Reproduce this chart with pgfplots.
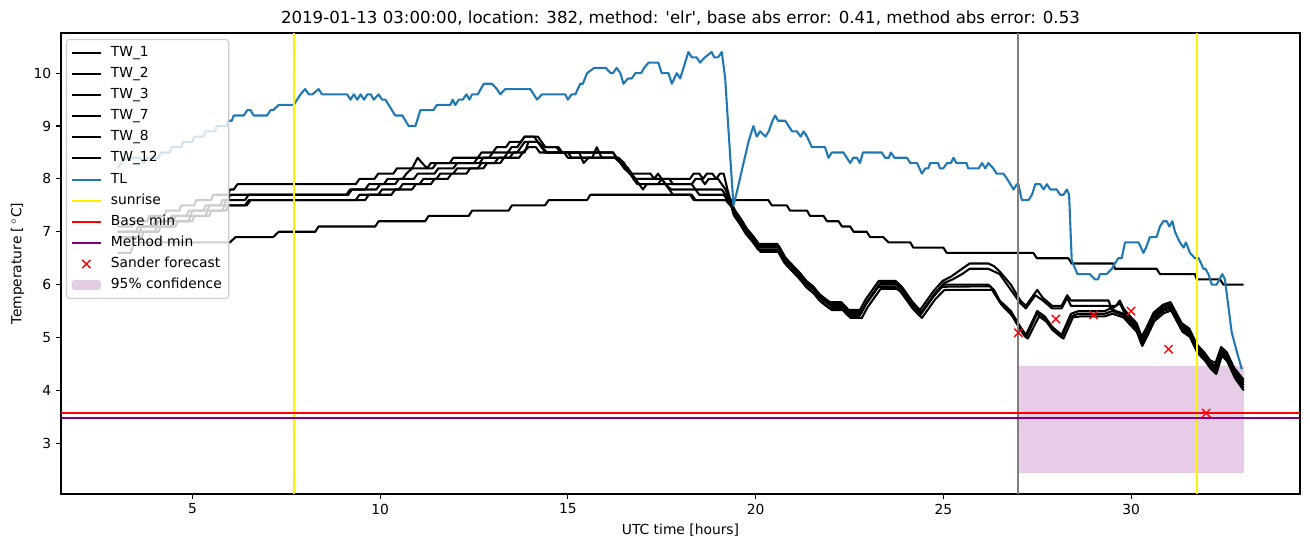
\documentclass[border=0pt]{standalone}
\usepackage{fontspec}
\setmainfont{DejaVu Sans}
\usepackage{pgfplots}
\pgfplotsset{compat=1.18}
\definecolor{mplblue}{HTML}{1F77B4}
\definecolor{mplpurple}{HTML}{800080}
\pgfplotsset{
  mylegline/.style={legend image code/.code={\draw[##1] (0bp,0bp) -- (21bp,0bp);}},
  mylegmark/.style={legend image code/.code={\draw[##1] plot coordinates {(10.5bp,0bp)};}},
  mylegarea/.style={legend image code/.code={\fill[##1] (0bp,-3.6bp) rectangle (21bp,3.6bp);}},
  tw/.style={black, line width=1.5bp, line join=round, mylegline},
}
\begin{document}
\begin{tikzpicture}
\begin{axis}[
  at={(0,0)}, anchor=south west,
  scale only axis, width=892.08bp, height=331.92bp,
  xmin=1.5, xmax=34.5, ymin=2.04, ymax=10.76,
  xtick={5,10,15,20,25,30}, ytick={3,4,5,6,7,8,9,10},
  tick pos=left, tick align=outside,
  major tick length=3.5bp,
  every tick/.style={black, line width=0.8bp},
  axis line style={line width=0.8bp},
  /pgf/number format/assume math mode=true,
  ticklabel style={font=\fontsize{10}{12}\selectfont},
  xlabel={UTC time [hours]}, ylabel={Temperature [\,$^\circ$C]},
  label style={font=\fontsize{10}{12}\selectfont},
  title={2019-01-13 03:00:00, location: 382, method: \textquotesingle elr\textquotesingle, base abs error: 0.41, method abs error: 0.53},
  title style={font=\fontsize{12}{14}\selectfont, yshift=-4.3bp},
  legend cell align=left,
  legend style={at={(0.004,0.987)}, anchor=north west, draw=black!20, line width=0.8bp, rounded corners=2bp,
    fill=white, fill opacity=0.8, text opacity=1, draw opacity=1,
    font=\fontsize{10}{12}\selectfont, row sep=0pt,
    /tikz/every odd column/.append style={column sep=4.5bp},
    nodes={text height=7.5bp, text depth=2.5bp, inner ysep=2.6bp}},
]
% 95% confidence band (drawn first, below everything)
\addplot[draw=none, fill=mplpurple, fill opacity=0.2, forget plot] coordinates {(27,2.444) (33,2.444) (33,4.462) (27,4.462)} -- cycle;

% TW_1
\addplot[tw] coordinates {(3.0,7.1)(3.4,7.1)(3.45,7.2)(3.8,7.2)(3.85,7.3)(4.25,7.3)(4.3,7.4)(4.65,7.4)(4.7,7.5)(5.05,7.5)(5.1,7.6)(5.5,7.6)(5.55,7.7)(5.95,7.7)(6.0,7.8)(6.1,7.8)(6.2,7.9)(9.35,7.9)(9.45,8.0)(9.85,8.0)(9.95,8.1)(10.35,8.1)(10.45,8.2)(11.4,8.2)(11.5,8.3)(11.85,8.3)(11.95,8.4)(12.6,8.4)(12.7,8.5)(13.0,8.5)(13.1,8.6)(13.35,8.6)(13.45,8.7)(13.75,8.7)(13.85,8.8)(14.2,8.8)(14.3,8.7)(14.4,8.6)(14.7,8.6)(14.8,8.5)(16.2,8.5)(16.3,8.4)(16.45,8.3)(16.6,8.2)(16.7,8.1)(17.2,8.1)(17.3,8.0)(18.25,8.0)(18.35,8.1)(18.5,8.1)(18.6,8.0)(18.7,8.1)(18.85,8.1)(18.95,8.0)(19.05,8.1)(19.15,8.1)(19.25,7.8)(19.35,7.55)(19.43,7.42)(19.58,7.27)(19.75,7.07)(19.93,6.92)(20.08,6.77)(20.58,6.77)(20.78,6.52)(20.98,6.37)(21.18,6.22)(21.35,6.07)(21.53,5.97)(21.7,5.82)(21.88,5.72)(21.98,5.67)(22.28,5.67)(22.48,5.52)(22.78,5.52)(22.93,5.72)(23.08,5.87)(23.28,6.07)(23.73,6.07)(23.88,5.97)(24.03,5.82)(24.18,5.67)(24.38,5.52)(24.53,5.67)(24.73,5.87)(24.98,6.07)(25.2,6.15)(25.4,6.25)(25.6,6.35)(25.7,6.4)(26.2,6.4)(26.35,6.35)(26.5,6.25)(26.8,6.0)(27.05,5.7)(27.2,5.6)(27.5,5.9)(27.65,5.75)(27.9,5.6)(28.15,5.6)(28.3,5.8)(28.4,5.7)(29.4,5.7)(29.45,5.6)(29.6,5.6)(29.7,5.7)(29.8,5.55)(29.95,5.42)(30.15,5.27)(30.28,5.02)(30.4,5.17)(30.6,5.47)(30.85,5.62)(31.05,5.67)(31.2,5.47)(31.35,5.27)(31.55,5.17)(31.75,4.87)(31.95,4.72)(32.1,4.57)(32.25,4.52)(32.4,4.82)(32.55,4.72)(32.75,4.42)(33.0,4.2)};
\addlegendentry{TW\_1}
% TW_2
\addplot[tw] coordinates {(3.0,7.0)(3.5,7.0)(3.55,7.1)(3.95,7.1)(4.0,7.2)(4.4,7.2)(4.45,7.3)(4.85,7.3)(4.9,7.4)(5.3,7.4)(5.35,7.5)(5.75,7.5)(5.8,7.6)(5.95,7.6)(6.0,7.7)(9.1,7.7)(9.2,7.8)(9.6,7.8)(9.7,7.9)(10.1,7.9)(10.2,8.0)(10.6,8.0)(10.7,8.1)(10.85,8.2)(11.0,8.4)(11.12,8.3)(11.25,8.2)(11.35,8.3)(12.5,8.3)(12.6,8.4)(12.9,8.4)(13.0,8.5)(13.4,8.5)(13.5,8.6)(13.65,8.6)(13.75,8.7)(13.85,8.8)(14.1,8.8)(14.2,8.7)(14.35,8.6)(14.75,8.6)(14.85,8.5)(16.2,8.5)(16.3,8.4)(16.5,8.2)(16.65,8.1)(16.75,8.0)(17.3,8.0)(17.4,8.1)(17.5,8.0)(17.7,8.0)(17.8,7.9)(18.3,7.9)(18.4,8.0)(18.55,8.0)(18.65,7.9)(18.75,8.0)(19.0,8.0)(19.1,7.9)(19.2,7.8)(19.35,7.55)(19.47,7.38)(19.62,7.23)(19.79,7.03)(19.97,6.88)(20.12,6.73)(20.62,6.73)(20.82,6.48)(21.02,6.33)(21.22,6.18)(21.39,6.03)(21.57,5.93)(21.74,5.78)(21.92,5.68)(22.02,5.63)(22.32,5.63)(22.52,5.48)(22.82,5.48)(22.97,5.68)(23.12,5.83)(23.32,6.03)(23.77,6.03)(23.92,5.93)(24.07,5.78)(24.22,5.63)(24.42,5.48)(24.57,5.63)(24.77,5.83)(25.02,6.03)(25.25,6.1)(25.5,6.2)(25.7,6.3)(26.2,6.3)(26.5,6.2)(26.8,5.9)(27.05,5.65)(27.2,5.55)(27.45,5.8)(27.65,5.7)(27.9,5.55)(28.15,5.55)(28.3,5.75)(28.4,5.6)(29.4,5.6)(29.5,5.55)(29.7,5.65)(29.8,5.5)(29.95,5.38)(30.15,5.23)(30.28,4.97)(30.4,5.13)(30.6,5.43)(30.85,5.58)(31.05,5.63)(31.2,5.43)(31.35,5.23)(31.55,5.13)(31.75,4.83)(31.95,4.68)(32.1,4.53)(32.25,4.46)(32.4,4.78)(32.55,4.68)(32.75,4.38)(33.0,4.15)};
\addlegendentry{TW\_2}
% TW_3
\addplot[tw] coordinates {(3.0,7.0)(3.6,7.0)(3.65,7.1)(4.05,7.1)(4.1,7.2)(4.5,7.2)(4.55,7.3)(4.95,7.3)(5.0,7.4)(5.4,7.4)(5.45,7.5)(5.85,7.5)(5.9,7.6)(6.4,7.6)(6.5,7.7)(9.15,7.7)(9.25,7.8)(9.9,7.8)(10.0,7.9)(10.4,7.9)(10.5,8.0)(10.9,8.0)(11.0,8.1)(11.45,8.1)(11.55,8.2)(11.95,8.2)(12.05,8.3)(12.65,8.3)(12.75,8.4)(13.3,8.4)(13.4,8.5)(13.65,8.5)(13.75,8.6)(13.85,8.7)(14.2,8.7)(14.3,8.6)(14.45,8.5)(14.9,8.5)(15.0,8.4)(15.65,8.4)(15.77,8.6)(15.9,8.4)(16.25,8.4)(16.4,8.3)(16.55,8.2)(16.7,8.1)(16.8,8.0)(17.5,8.0)(17.6,7.9)(18.3,7.9)(18.4,7.8)(19.1,7.8)(19.2,7.7)(19.35,7.52)(19.45,7.35)(19.6,7.2)(19.77,7.0)(19.95,6.85)(20.1,6.7)(20.6,6.7)(20.8,6.45)(21.0,6.3)(21.2,6.15)(21.37,6.0)(21.55,5.9)(21.72,5.75)(21.9,5.65)(22.0,5.6)(22.3,5.6)(22.5,5.45)(22.8,5.45)(22.95,5.65)(23.1,5.8)(23.3,6.0)(23.75,6.0)(23.9,5.9)(24.05,5.75)(24.2,5.6)(24.4,5.45)(24.55,5.6)(24.75,5.8)(25.0,6.0)(26.2,6.0)(26.35,5.9)(26.5,5.7)(26.8,5.5)(27.05,5.2)(27.2,5.05)(27.5,5.5)(27.7,5.4)(27.9,5.2)(28.15,5.05)(28.4,5.45)(28.6,5.5)(29.3,5.5)(29.45,5.55)(29.6,5.5)(29.8,5.45)(29.95,5.34)(30.15,5.19)(30.28,4.92)(30.4,5.09)(30.6,5.39)(30.85,5.54)(31.05,5.59)(31.2,5.39)(31.35,5.19)(31.55,5.09)(31.75,4.79)(31.95,4.64)(32.1,4.49)(32.25,4.41)(32.4,4.74)(32.55,4.64)(32.75,4.33)(33.0,4.1)};
\addlegendentry{TW\_3}
% TW_7
\addplot[tw] coordinates {(3.0,6.9)(3.55,6.9)(3.6,7.0)(4.0,7.0)(4.05,7.1)(4.45,7.1)(4.5,7.2)(4.9,7.2)(4.95,7.3)(5.35,7.3)(5.4,7.4)(5.8,7.4)(5.85,7.5)(6.4,7.5)(6.5,7.6)(9.35,7.6)(9.45,7.7)(9.95,7.7)(10.05,7.8)(10.5,7.8)(10.6,7.9)(11.05,7.9)(11.15,8.0)(11.5,8.0)(11.6,8.1)(11.95,8.1)(12.05,8.2)(12.6,8.2)(12.7,8.3)(13.05,8.3)(13.15,8.4)(13.45,8.4)(13.55,8.5)(13.85,8.5)(13.95,8.7)(14.2,8.7)(14.3,8.6)(14.4,8.5)(15.0,8.5)(15.1,8.4)(16.3,8.4)(16.45,8.3)(16.6,8.2)(16.75,8.0)(16.85,7.9)(17.4,7.9)(17.5,8.0)(17.6,7.9)(17.75,7.8)(18.4,7.8)(18.5,7.7)(19.15,7.7)(19.25,7.6)(19.35,7.5)(19.42,7.31)(19.57,7.16)(19.74,6.96)(19.92,6.81)(20.07,6.66)(20.57,6.66)(20.77,6.41)(20.97,6.26)(21.17,6.11)(21.34,5.96)(21.52,5.86)(21.69,5.71)(21.87,5.61)(21.97,5.56)(22.27,5.56)(22.47,5.41)(22.77,5.41)(22.92,5.61)(23.07,5.76)(23.27,5.96)(23.72,5.96)(23.87,5.86)(24.02,5.71)(24.17,5.56)(24.37,5.41)(24.52,5.56)(24.72,5.76)(24.97,5.96)(26.25,5.97)(26.5,5.68)(26.8,5.45)(27.05,5.15)(27.2,5.0)(27.5,5.45)(27.7,5.35)(27.9,5.15)(28.15,5.0)(28.4,5.4)(28.6,5.45)(29.3,5.45)(29.5,5.5)(29.8,5.42)(29.95,5.3)(30.15,5.15)(30.28,4.88)(30.4,5.05)(30.6,5.35)(30.85,5.5)(31.05,5.55)(31.2,5.35)(31.35,5.15)(31.55,5.05)(31.75,4.75)(31.95,4.6)(32.1,4.45)(32.25,4.36)(32.4,4.7)(32.55,4.58)(32.75,4.28)(33.0,4.05)};
\addlegendentry{TW\_7}
% TW_8
\addplot[tw] coordinates {(3.0,6.9)(3.65,6.9)(3.7,7.0)(4.1,7.0)(4.15,7.1)(4.55,7.1)(4.6,7.2)(5.0,7.2)(5.05,7.3)(5.45,7.3)(5.5,7.4)(5.9,7.4)(5.95,7.5)(6.45,7.5)(6.55,7.6)(9.6,7.6)(9.7,7.7)(10.3,7.7)(10.4,7.8)(10.85,7.8)(10.95,7.9)(11.35,7.9)(11.45,8.0)(11.8,8.0)(11.9,8.1)(12.3,8.1)(12.4,8.2)(12.75,8.2)(12.85,8.3)(13.2,8.3)(13.3,8.4)(13.7,8.4)(13.8,8.5)(13.95,8.6)(14.15,8.6)(14.25,8.5)(15.3,8.5)(15.42,8.3)(15.55,8.4)(16.35,8.4)(16.5,8.3)(16.65,8.1)(16.8,8.0)(16.9,7.9)(17.0,7.8)(17.1,7.9)(17.6,7.9)(17.7,7.8)(17.8,7.7)(18.3,7.7)(18.4,7.6)(19.2,7.6)(19.35,7.48)(19.48,7.27)(19.63,7.12)(19.8,6.92)(19.98,6.77)(20.13,6.62)(20.63,6.62)(20.83,6.37)(21.03,6.22)(21.23,6.07)(21.4,5.92)(21.58,5.82)(21.75,5.67)(21.93,5.57)(22.03,5.52)(22.33,5.52)(22.53,5.37)(22.83,5.37)(22.98,5.57)(23.13,5.72)(23.33,5.92)(23.78,5.92)(23.93,5.82)(24.08,5.67)(24.23,5.52)(24.43,5.37)(24.58,5.52)(24.78,5.72)(25.03,5.9)(26.3,5.9)(26.55,5.62)(26.85,5.4)(27.1,5.1)(27.25,4.98)(27.55,5.4)(27.75,5.3)(27.95,5.12)(28.2,4.98)(28.45,5.38)(28.65,5.4)(29.3,5.4)(29.5,5.45)(29.8,5.38)(29.95,5.26)(30.15,5.11)(30.3,4.84)(30.42,5.01)(30.62,5.31)(30.87,5.46)(31.07,5.51)(31.22,5.31)(31.37,5.11)(31.57,5.01)(31.77,4.71)(31.97,4.56)(32.12,4.41)(32.27,4.31)(32.42,4.66)(32.57,4.54)(32.77,4.23)(33.0,4.0)};
\addlegendentry{TW\_8}
% TW_12 (slow)
\addplot[tw] coordinates {(3.0,6.6)(3.35,6.6)(3.45,6.8)(6.0,6.8)(6.15,6.9)(7.15,6.9)(7.3,7.0)(8.27,7.0)(8.36,7.1)(9.87,7.1)(9.96,7.2)(11.2,7.2)(11.29,7.3)(12.36,7.3)(12.45,7.4)(13.42,7.4)(13.51,7.5)(14.39,7.5)(14.49,7.6)(15.51,7.6)(15.6,7.7)(18.26,7.7)(18.35,7.6)(20.34,7.6)(20.43,7.5)(20.83,7.5)(20.92,7.4)(21.37,7.4)(21.45,7.3)(21.81,7.3)(21.9,7.2)(22.21,7.2)(22.3,7.1)(22.52,7.1)(22.61,7.0)(22.96,7.0)(23.05,6.9)(23.4,6.9)(23.54,6.8)(24.12,6.8)(24.2,6.7)(25.0,6.7)(25.09,6.6)(27.4,6.6)(27.49,6.5)(28.33,6.5)(28.42,6.4)(29.53,6.4)(29.57,6.3)(30.68,6.3)(30.77,6.2)(31.7,6.2)(31.75,6.1)(32.37,6.1)(32.46,6.0)(33.0,6.0)};
\addlegendentry{TW\_12}
% TL
\addplot[mplblue, line width=1.5bp, line join=round, mylegline] coordinates {(3.0,8.2)(3.1,8.3)(3.25,8.4)(3.6,8.4)(3.7,8.3)(3.8,8.4)(4.1,8.4)(4.15,8.5)(4.4,8.5)(4.45,8.6)(4.7,8.6)(4.75,8.7)(5.0,8.7)(5.05,8.8)(5.3,8.8)(5.35,8.9)(5.6,8.9)(5.65,9.0)(5.9,9.0)(5.95,9.1)(6.05,9.1)(6.1,9.2)(6.37,9.2)(6.46,9.3)(6.55,9.3)(6.63,9.2)(6.99,9.2)(7.08,9.3)(7.15,9.3)(7.3,9.4)(7.7,9.4)(7.79,9.5)(7.88,9.6)(8.0,9.7)(8.1,9.6)(8.2,9.6)(8.36,9.7)(8.45,9.6)(9.12,9.6)(9.21,9.5)(9.3,9.6)(9.39,9.5)(9.48,9.6)(9.57,9.5)(9.66,9.6)(9.75,9.6)(9.83,9.5)(9.96,9.6)(10.05,9.5)(10.14,9.5)(10.4,9.2)(10.59,9.2)(10.76,9.0)(10.94,9.0)(11.07,9.3)(11.42,9.3)(11.51,9.4)(11.87,9.4)(11.93,9.5)(12.0,9.4)(12.1,9.5)(12.2,9.5)(12.3,9.6)(12.38,9.5)(12.45,9.6)(12.6,9.6)(12.76,9.8)(12.98,9.8)(13.11,9.7)(13.2,9.6)(13.33,9.7)(14.0,9.7)(14.18,9.5)(14.31,9.6)(14.93,9.6)(15.0,9.5)(15.1,9.6)(15.2,9.6)(15.33,9.8)(15.4,9.8)(15.51,10.0)(15.7,10.1)(16.01,10.1)(16.14,10.0)(16.2,10.0)(16.3,10.1)(16.4,10.0)(16.48,9.8)(16.6,9.9)(16.7,9.9)(16.8,10.0)(16.95,10.0)(17.03,10.1)(17.15,10.2)(17.41,10.2)(17.5,10.0)(17.68,10.0)(17.77,9.8)(17.9,10.0)(17.99,9.9)(18.08,10.1)(18.21,10.4)(18.3,10.3)(18.43,10.3)(18.52,10.2)(18.65,10.3)(18.83,10.4)(18.9,10.3)(19.0,10.3)(19.1,10.4)(19.19,9.9)(19.28,8.9)(19.41,7.5)(19.5,7.75)(19.63,8.15)(19.81,8.7)(19.94,9.0)(20.03,8.8)(20.12,8.9)(20.26,8.8)(20.35,8.9)(20.45,9.1)(20.52,9.2)(20.6,9.1)(20.79,9.1)(20.97,8.9)(21.1,8.9)(21.2,8.8)(21.28,8.9)(21.37,8.8)(21.5,8.6)(21.85,8.6)(21.94,8.4)(22.03,8.5)(22.34,8.5)(22.43,8.4)(22.52,8.3)(22.6,8.4)(22.7,8.4)(22.78,8.3)(22.86,8.5)(23.36,8.5)(23.45,8.4)(23.55,8.4)(23.6,8.5)(23.7,8.4)(24.03,8.4)(24.12,8.3)(24.3,8.3)(24.43,8.1)(24.52,8.2)(24.6,8.2)(24.65,8.3)(24.86,8.3)(24.91,8.2)(25.0,8.2)(25.1,8.3)(25.2,8.3)(25.27,8.4)(25.35,8.3)(25.62,8.3)(25.66,8.2)(25.94,8.2)(26.03,8.3)(26.12,8.2)(26.2,8.3)(26.33,8.2)(26.42,8.1)(26.6,8.1)(26.7,8.0)(26.87,7.8)(26.96,7.9)(27.0,7.9)(27.09,7.6)(27.27,7.6)(27.36,7.7)(27.45,7.9)(27.58,7.9)(27.67,7.8)(27.76,7.9)(27.85,7.8)(28.02,7.8)(28.11,7.7)(28.2,7.7)(28.29,7.8)(28.35,7.7)(28.42,6.46)(28.57,6.2)(28.9,6.2)(29.04,6.1)(29.12,6.1)(29.17,6.2)(29.35,6.2)(29.49,6.3)(29.57,6.4)(29.66,6.5)(29.75,6.5)(29.84,6.8)(30.2,6.8)(30.33,6.6)(30.4,6.7)(30.5,6.9)(30.68,6.9)(30.77,7.1)(30.86,7.2)(30.95,7.2)(31.02,7.1)(31.1,7.2)(31.17,7.0)(31.3,6.8)(31.4,6.7)(31.46,6.8)(31.57,6.6)(31.7,6.5)(31.8,6.5)(31.93,6.3)(31.98,6.3)(32.06,6.2)(32.15,6.0)(32.28,6.0)(32.43,6.2)(32.5,6.1)(32.59,5.6)(32.68,5.1)(32.81,4.75)(32.95,4.4)};
\addlegendentry{TL}
% sunrise
\addplot[yellow, line width=1.5bp, mylegline] coordinates {(7.71,0) (7.71,12)};
\addlegendentry{sunrise}
\addplot[yellow, line width=1.5bp, forget plot] coordinates {(31.75,0) (31.75,12)};
% forecast time
\addplot[gray, line width=1.5bp, forget plot] coordinates {(27,0) (27,12)};
% Base min
\addplot[red, line width=1.5bp, mylegline] coordinates {(0,3.578) (40,3.578)};
\addlegendentry{Base min}
% Method min
\addplot[mplpurple, line width=1.5bp, mylegline] coordinates {(0,3.473) (40,3.473)};
\addlegendentry{Method min}
% Sander forecast
\addplot[only marks, mark=x, red, mark size=4.2bp, mark options={line width=1bp}, mylegmark]
  coordinates {(27,5.09) (28,5.35) (29,5.43) (30,5.50) (31,4.78) (32,3.57)};
\addlegendentry{Sander forecast}
\addlegendimage{draw=none, fill=mplpurple, fill opacity=0.2, mylegarea}
\addlegendentry{95\% confidence}
\end{axis}
\pgfresetboundingbox
\path[use as bounding box] ([shift={(-43.92bp,-38.16bp)}]current axis.south west) rectangle ([shift={(899.28bp,355.68bp)}]current axis.south west);
\end{tikzpicture}
\end{document}
